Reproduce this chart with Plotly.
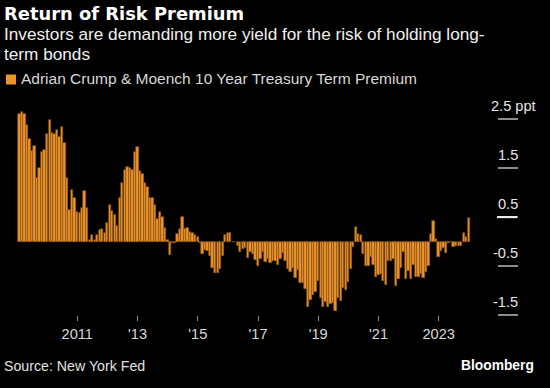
import pandas as pd
import plotly.graph_objects as go

# ---- data (monthly, Jan 2009 - Dec 2023), ppt ----
start_month = "2009-01-31"
term_premium = [
    2.60, 2.64, 2.60, 2.39, 2.09, 1.85, 1.96, 1.30, 1.50, 1.83, 1.87, 2.19,
    2.48, 2.21, 2.19, 2.29, 2.13, 2.34, 2.02, 1.29, 0.65, 1.06, 0.90, 0.60,
    0.58, 0.68, 1.03, 0.68, 0.04, 0.13, 0.03, 0.13, 0.23, 0.26, 0.17, 0.38,
    0.74, 0.62, 0.55, 0.32, 0.89, 1.19, 1.47, 1.52, 1.51, 1.47, 1.83, 1.93,
    1.45, 1.38, 1.19, 1.12, 0.90, 0.89, 0.74, 0.46, 0.60, 0.50, 0.28, 0.04,
    -0.27, -0.03, -0.02, 0.15, 0.25, 0.50, 0.26, 0.27, 0.19, 0.17, 0.13, 0.10,
    -0.02, -0.26, -0.18, -0.19, -0.30, -0.53, -0.64, -0.64, -0.55, -0.29, 0.13, 0.18,
    0.17, -0.01, -0.01, -0.08, -0.21, -0.16, -0.13, -0.33, -0.22, -0.26, -0.38, -0.49,
    -0.35, -0.21, -0.42, -0.35, -0.43, -0.40, -0.39, -0.47, -0.36, -0.23, -0.40, -0.55,
    -0.62, -0.54, -0.74, -0.58, -0.84, -0.84, -0.96, -1.33, -1.19, -1.09, -1.04, -0.81,
    -1.16, -1.33, -1.24, -1.33, -1.28, -1.26, -1.41, -1.15, -1.21, -0.94, -0.99, -0.83,
    -0.55, -0.11, 0.30, 0.15, 0.13, -0.26, -0.49, -0.49, -0.31, -0.48, -0.73, -0.69,
    -0.66, -0.81, -0.88, -0.39, -0.39, -0.36, -0.90, -0.77, -0.54, -0.21, -0.77, -0.60,
    -0.77, -0.47, -0.72, -0.72, -0.66, -0.75, -0.62, -0.49, 0.15, 0.42, 0.05, -0.32,
    -0.19, -0.14, -0.24, -0.02, -0.01, -0.11, -0.09, -0.09, -0.09, 0.17, 0.09, 0.49,
]
dates = pd.date_range(start=start_month, periods=len(term_premium), freq="ME")

x_tick_vals = ["2011-01-01", "2013-01-01", "2015-01-01", "2017-01-01",
               "2019-01-01", "2021-01-01", "2023-01-01"]
x_tick_text = ["2011", "'13", "'15", "'17", "'19", "'21", "2023"]
y_tick_vals = [2.5, 1.5, 0.5, -0.5, -1.5]
y_tick_text = ["2.5 ppt", "1.5", "0.5", "-0.5", "-1.5"]
highlight_tick = 0.5

series_name = "Adrian Crump & Moench 10 Year Treasury Term Premium"
title = "Return of Risk Premium"
subtitle_lines = ["Investors are demanding more yield for the risk of holding long-",
                  "term bonds"]
source = "Source: New York Fed"

# ---- layout geometry ----
W, H = 550, 388
ML, MR, MT, MB = 10, 53, 107, 73
PW, PH = W - ML - MR, H - MT - MB
def px(xp):
    return (xp - ML) / PW
def py(yp):
    return (H - MB - yp) / PH

ORANGE = "#eb932d"
FONT = "Liberation Sans, Arial, sans-serif"
BOLD_FONT = "DejaVu Sans, Verdana, sans-serif"

fig = go.Figure()
fig.add_trace(go.Bar(
    x=dates, y=term_premium, name=series_name,
    marker=dict(color=ORANGE, line=dict(color="#8a5212", width=0.6)),
    showlegend=False,
))

annotations = [
    dict(text="<b>%s</b>" % title, x=px(4), y=py(3), xanchor="left", yanchor="top",
         font=dict(size=17.9, color="#ffffff", family=BOLD_FONT)),
    dict(text=subtitle_lines[0], x=px(4), y=py(24), xanchor="left", yanchor="top",
         font=dict(size=17.2, color="#f0f0f0", family=FONT)),
    dict(text=subtitle_lines[1], x=px(4), y=py(44), xanchor="left", yanchor="top",
         font=dict(size=17.2, color="#f0f0f0", family=FONT)),
    dict(text=series_name, x=px(21), y=py(70), xanchor="left", yanchor="top",
         font=dict(size=15.5, color="#d8d8d8", family=FONT)),
    dict(text=source, x=px(4), y=py(358), xanchor="left", yanchor="top",
         font=dict(size=14.2, color="#e0e0e0", family=FONT)),
    dict(text="<b>Bloomberg</b>", x=px(534), y=py(358), xanchor="right", yanchor="top",
         font=dict(size=13.8, color="#ffffff", family=FONT)),
]
for v, t in zip(y_tick_vals, y_tick_text):
    annotations.append(dict(
        text=t, xref="paper", yref="y", x=px(536 if "ppt" in t else 518), y=v,
        xanchor="right", yanchor="bottom", yshift=5, showarrow=False,
        font=dict(size=14.6, color="#e6e6e6", family=FONT)))
for a in annotations:
    a.setdefault("xref", "paper")
    a.setdefault("yref", "paper")
    a.setdefault("showarrow", False)
    a.setdefault("borderpad", 0)
    a.setdefault("borderwidth", 0)

fig.update_layout(
    width=W, height=H,
    margin=dict(l=ML, r=MR, t=MT, b=MB),
    paper_bgcolor="#000000", plot_bgcolor="#000000",
    bargap=0.0,
    showlegend=False,
    annotations=annotations,
    shapes=[
        dict(type="rect", xref="paper", yref="paper",
             x0=px(6), x1=px(16), y0=py(74.5), y1=py(84.5),
             fillcolor=ORANGE, line=dict(width=0)),
        dict(type="line", xref="paper", yref="y",
             x0=1.0, x1=px(517), y0=highlight_tick, y1=highlight_tick,
             line=dict(color="#f2f2f2", width=2)),
    ],
    xaxis=dict(type="date", range=["2008-10-07", "2024-12-08"],
               tickvals=x_tick_vals, ticktext=x_tick_text,
               ticks="outside", ticklen=5, tickcolor="#8c8c8c", tickwidth=1,
               showgrid=False, zeroline=False, showline=False,
               tickfont=dict(size=14.6, color="#d8d8d8", family=FONT)),
    yaxis=dict(range=[-1.5, 2.75], side="right", tickvals=y_tick_vals,
               ticks="outside", ticklen=20, tickcolor="#8c8c8c", tickwidth=2,
               showticklabels=False, showgrid=False, zeroline=False, showline=False),
)

fig.write_html("out.html", config={"displayModeBar": False},
               post_script="document.body.style.margin='0';")
